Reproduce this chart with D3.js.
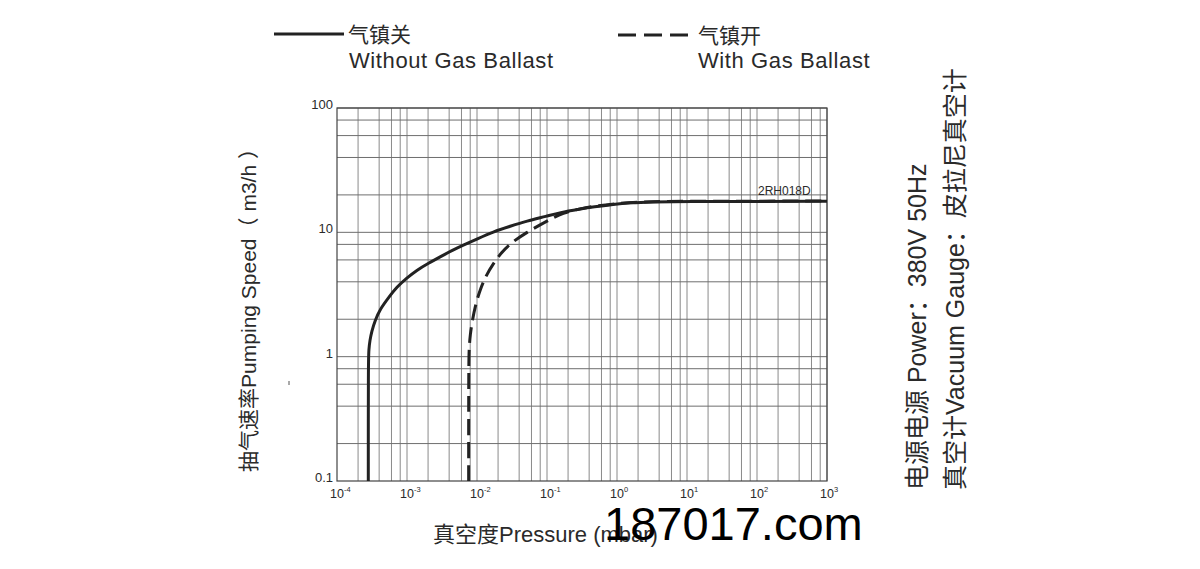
<!DOCTYPE html>
<html lang="zh">
    <head>
        <meta charset="utf-8">
        <title>2RH018D pumping speed</title>
        <script src="https://cdn.jsdelivr.net/npm/d3@7"></script>
        <style>
            body { margin: 0; background: #fff; }
            text { font-family: "Liberation Sans", Arial, "Noto Sans CJK SC", sans-serif; fill: #2a2a2a; }
            .cjk { font-family: "Liberation Sans", "Noto Sans CJK SC", sans-serif; }
        </style>
    </head>
    <body>
        <script type="text/javascript">

            // x axis decades (mbar) and their exponent labels
            var decades = [1e-4, 1e-3, 1e-2, 1e-1, 1e0, 1e1, 1e2, 1e3];
            var decadeExps = ["-4", "-3", "-2", "-1", "0", "1", "2", "3"];

            // y axis ticks (m3/h)
            var yTicks = [0.1, 1, 10, 100];
            var yTickLabels = ["0.1", "1", "10", "100"];

            // minor grid lines inside every decade
            var gridSteps = [2, 4, 6, 8];

            // without gas ballast (solid)
            var solidP = [2.8e-4, 2.8e-4, 2.8e-4, 2.85e-4, 2.95e-4, 3.13e-4, 3.5e-4, 4.1e-4, 5.5e-4, 7.1e-4, 1e-3, 1.37e-3, 2e-3, 2.96e-3, 4.5e-3, 6.4e-3, 1e-2, 1.7e-2, 3e-2, 5.1e-2, 0.1, 0.15, 0.3, 0.46, 0.9, 1.5, 3, 10, 100, 1000, 1000];
            var solidS = [0.1, 0.1, 0.9, 1.15, 1.35, 1.6, 1.95, 2.4, 3.0, 3.62, 4.3, 4.95, 5.62, 6.34, 7.2, 7.9, 8.85, 10.1, 11.2, 12.3, 13.5, 14.4, 15.4, 16.0, 16.8, 17.3, 17.6, 17.7, 17.7, 17.8, 17.8];

            // with gas ballast (dashed)
            var dashP = [7.6e-3, 7.6e-3, 7.6e-3, 7.75e-3, 8.0e-3, 8.5e-3, 9.5e-3, 1.1e-2, 1.35e-2, 1.71e-2, 2.25e-2, 2.96e-2, 5.1e-2, 9.9e-2, 0.171, 0.3, 0.5, 1, 2, 10, 100, 1000, 1000];
            var dashS = [0.1, 0.1, 0.9, 1.2, 1.5, 1.9, 2.6, 3.43, 4.5, 5.62, 6.9, 8.11, 10.0, 12.3, 14.4, 15.5, 16.3, 17.0, 17.6, 17.8, 17.8, 17.9, 17.9];

            var w = 1200;
            var h = 569;

            var svg = d3.select("body")
                        .append("svg")
                        .attr("width", w)
                        .attr("height", h);

            // plot box
            var plotL = 337, plotR = 827, plotT = 108, plotB = 481;

            var xScale = d3.scaleLog()
                           .domain([1e-4, 1e3])
                           .range([plotL, plotR]);

            var yScale = d3.scaleLog()
                           .domain([0.1, 100])
                           .range([plotB, plotT]);

            // minor values for the grid
            var xMinor = [];
            decades.slice(0, -1).forEach(function(d) {
              gridSteps.forEach(function(s) { xMinor.push(d * s); });
              xMinor.push(d * 10);
            });
            var yMinor = [];
            [0.1, 1, 10].forEach(function(d) {
              gridSteps.forEach(function(s) { yMinor.push(d * s); });
              yMinor.push(d * 10);
            });

            // vertical grid
            svg.append("g")
              .selectAll("line")
              .data(xMinor)
              .enter()
              .append("line")
              .attr("x1", function(d) { return xScale(d); })
              .attr("x2", function(d) { return xScale(d); })
              .attr("y1", plotT)
              .attr("y2", plotB)
              .attr("stroke", "#8a8a8a")
              .attr("stroke-width", 1);

            // horizontal grid
            svg.append("g")
              .selectAll("line")
              .data(yMinor)
              .enter()
              .append("line")
              .attr("x1", plotL)
              .attr("x2", plotR)
              .attr("y1", function(d) { return yScale(d); })
              .attr("y2", function(d) { return yScale(d); })
              .attr("stroke", "#6e6e6e")
              .attr("stroke-width", 1);

            // frame
            svg.append("rect")
              .attr("x", plotL)
              .attr("y", plotT)
              .attr("width", plotR - plotL)
              .attr("height", plotB - plotT)
              .attr("fill", "none")
              .attr("stroke", "#444")
              .attr("stroke-width", 1.2);

            // y tick labels
            svg.selectAll(".ylab")
              .data(yTicks)
              .enter()
              .append("text")
              .attr("class", "ylab")
              .attr("x", plotL - 4)
              .attr("y", function(d) { return yScale(d) + 1; })
              .attr("text-anchor", "end")
              .attr("font-size", 13)
              .text(function(d, i) { return yTickLabels[i]; });

            // x tick labels with superscript exponent
            var xl = svg.selectAll(".xlab")
              .data(decades)
              .enter()
              .append("text")
              .attr("class", "xlab")
              .attr("x", function(d) { return xScale(d) - 7; })
              .attr("y", 498)
              .attr("font-size", 12.5);
            xl.append("tspan").text("10");
            xl.append("tspan")
              .attr("dy", -6)
              .attr("font-size", 7.5)
              .text(function(d, i) { return decadeExps[i]; });

            // curves
            var line = d3.line()
                         .x(function(d) { return xScale(d[0]); })
                         .y(function(d) { return yScale(d[1]); })
                         .curve(d3.curveBasis);

            svg.append("path")
              .datum(solidP.map(function(p, i) { return [p, solidS[i]]; }))
              .attr("d", line)
              .attr("fill", "none")
              .attr("stroke", "#222")
              .attr("stroke-width", 3);

            svg.append("path")
              .datum(dashP.map(function(p, i) { return [p, dashS[i]]; }))
              .attr("d", line)
              .attr("fill", "none")
              .attr("stroke", "#222")
              .attr("stroke-width", 3)
              .attr("stroke-dasharray", "16,7");

            // model label
            svg.append("text")
              .attr("x", 758)
              .attr("y", 195)
              .attr("font-size", 12)
              .text("2RH018D");

            // legend
            svg.append("line")
              .attr("x1", 274).attr("x2", 344)
              .attr("y1", 34).attr("y2", 34)
              .attr("stroke", "#222").attr("stroke-width", 2.8);
            svg.append("text")
              .attr("class", "cjk")
              .attr("x", 348).attr("y", 42)
              .attr("font-size", 21)
              .text("气镇关");
            svg.append("text")
              .attr("x", 349).attr("y", 68)
              .attr("font-size", 22)
              .attr("letter-spacing", 0.6)
              .text("Without Gas Ballast");

            svg.append("line")
              .attr("x1", 618).attr("x2", 692)
              .attr("y1", 35).attr("y2", 35)
              .attr("stroke", "#222").attr("stroke-width", 2.8)
              .attr("stroke-dasharray", "18,8");
            svg.append("text")
              .attr("class", "cjk")
              .attr("x", 698).attr("y", 43)
              .attr("font-size", 21)
              .text("气镇开");
            svg.append("text")
              .attr("x", 698).attr("y", 68)
              .attr("font-size", 22)
              .attr("letter-spacing", 0.6)
              .text("With Gas Ballast");

            // axis titles
            svg.append("text")
              .attr("class", "cjk")
              .attr("transform", "translate(256,305) rotate(-90)")
              .attr("text-anchor", "middle")
              .attr("font-size", 21)
              .text("抽气速率Pumping Speed（ m3/h ）");

            svg.append("text")
              .attr("class", "cjk")
              .attr("x", 433)
              .attr("y", 542)
              .attr("font-size", 22)
              .text("真空度Pressure (mbar)");

            // stray tick mark left of the axis
            svg.append("line")
              .attr("x1", 289).attr("x2", 289)
              .attr("y1", 381).attr("y2", 385)
              .attr("stroke", "#555").attr("stroke-width", 1);

            // power and gauge notes on the right
            svg.append("text")
              .attr("class", "cjk")
              .attr("transform", "translate(926,490) rotate(-90)")
              .attr("font-size", 25)
              .text("电源电源  Power：380V 50Hz");
            svg.append("text")
              .attr("class", "cjk")
              .attr("transform", "translate(964,490) rotate(-90)")
              .attr("font-size", 25)
              .text("真空计Vacuum Gauge：皮拉尼真空计");

            // watermark
            svg.append("text")
              .attr("x", 604)
              .attr("y", 540)
              .attr("font-size", 47)
              .style("fill", "#000")
              .text("187017.com");
        </script>
    </body>
</html>
